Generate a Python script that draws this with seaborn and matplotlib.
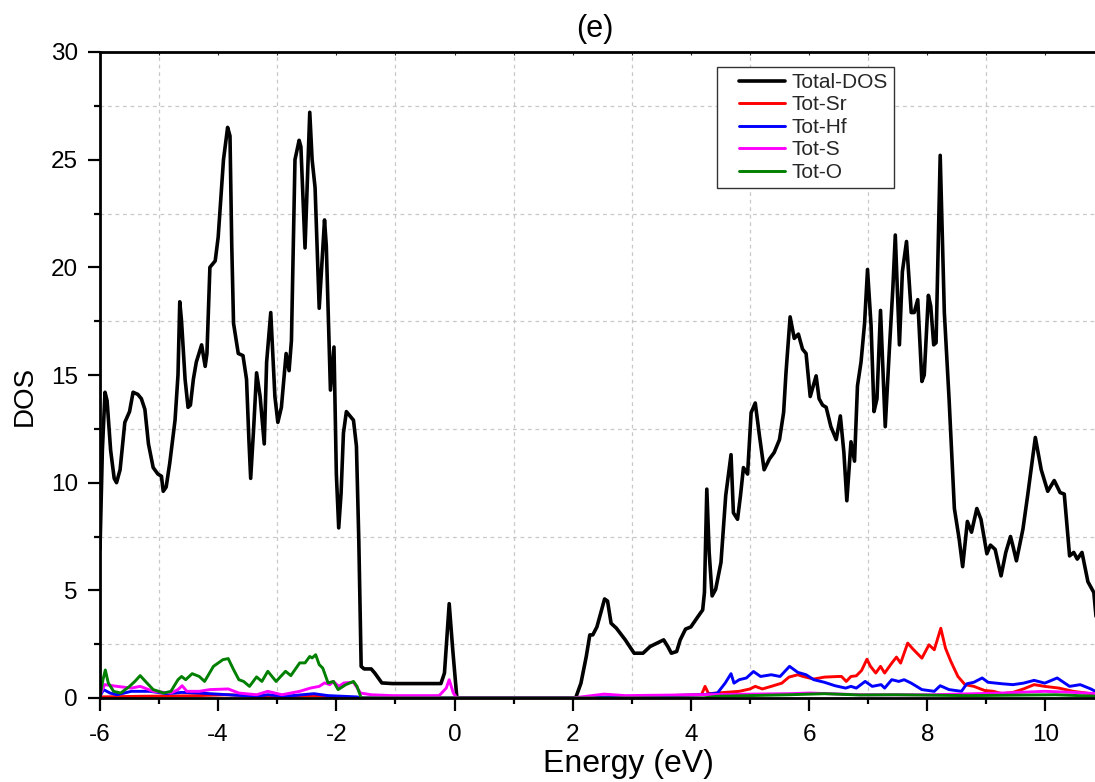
import numpy as np
import pandas as pd
import matplotlib
matplotlib.use("Agg")
import matplotlib.pyplot as plt
from matplotlib.ticker import MultipleLocator
from matplotlib.lines import Line2D
from matplotlib.legend_handler import HandlerLine2D
import seaborn as sns

# ---------------- data ----------------
total_x = [-6.0, -5.96, -5.915, -5.88, -5.82, -5.76, -5.72, -5.66, -5.58, -5.5, -5.44, -5.36, -5.3,
           -5.24, -5.18, -5.1, -5.02, -4.96, -4.93, -4.88, -4.82, -4.73, -4.68, -4.65, -4.62, -4.56,
           -4.51, -4.47, -4.42, -4.37, -4.28, -4.22, -4.19, -4.14, -4.05, -4.0, -3.91, -3.84, -3.8,
           -3.77, -3.74, -3.66, -3.58, -3.52, -3.48, -3.45, -3.4, -3.35, -3.29, -3.22, -3.18, -3.11,
           -3.04, -2.99, -2.93, -2.85, -2.8, -2.76, -2.70, -2.63, -2.6, -2.53, -2.45, -2.41, -2.36,
           -2.29, -2.2, -2.17, -2.1, -2.04, -2.0, -1.96, -1.92, -1.88, -1.83, -1.77, -1.71, -1.66,
           -1.62, -1.58, -1.53, -1.41, -1.35, -1.23, -1.05, -0.23, -0.17, -0.09, -0.03, 0.04,
           2.05, 2.14, 2.23, 2.29, 2.34, 2.41, 2.47, 2.54, 2.59, 2.65, 2.74, 2.89, 3.04, 3.19, 3.31,
           3.43, 3.54, 3.61, 3.67, 3.76, 3.82, 3.91, 4.0, 4.12, 4.2, 4.23, 4.27, 4.31, 4.36, 4.42,
           4.51, 4.59, 4.68, 4.72, 4.79, 4.84, 4.89, 4.96, 5.02, 5.09, 5.16, 5.24, 5.33, 5.41, 5.5,
           5.57, 5.61, 5.68, 5.75, 5.82, 5.89, 5.95, 6.02, 6.12, 6.17, 6.23, 6.29, 6.37, 6.46, 6.53,
           6.59, 6.64, 6.71, 6.77, 6.82, 6.88, 6.94, 6.99, 7.05, 7.1, 7.15, 7.21, 7.29, 7.36, 7.42,
           7.46, 7.53, 7.58, 7.65, 7.73, 7.78, 7.84, 7.91, 7.95, 8.02, 8.06, 8.11, 8.15, 8.22, 8.29,
           8.37, 8.46, 8.54, 8.6, 8.68, 8.75, 8.84, 8.91, 9.01, 9.07, 9.15, 9.25, 9.33, 9.41, 9.45,
           9.51, 9.62, 9.7, 9.83, 9.93, 10.04, 10.15, 10.25, 10.32, 10.41, 10.48, 10.54, 10.62,
           10.72, 10.82, 10.86]
total_y = [6.9, 11.5, 14.2, 13.8, 11.5, 10.2, 10.0, 10.6, 12.8, 13.3, 14.2, 14.1, 13.9,
           13.4, 11.8, 10.7, 10.4, 10.3, 9.6, 9.8, 10.9, 12.9, 15.0, 18.4, 17.5, 14.8,
           13.5, 13.6, 14.8, 15.6, 16.4, 15.4, 16.0, 20.0, 20.3, 21.4, 25.0, 26.5, 26.1,
           21.0, 17.4, 16.0, 15.9, 14.8, 12.0, 10.2, 12.5, 15.1, 14.0, 11.8, 15.6, 17.9,
           14.0, 12.8, 13.5, 16.0, 15.2, 16.6, 25.0, 25.9, 25.6, 20.9, 27.2, 25.0, 23.7,
           18.1, 22.2, 21.0, 14.3, 16.3, 10.4, 7.9, 9.5, 12.3, 13.3, 13.1, 12.9, 11.7,
           7.35, 1.47, 1.35, 1.35, 1.16, 0.7, 0.67, 0.67, 1.16, 4.38, 2.24, 0.0,
           0.0, 0.69, 1.93, 2.93, 2.93, 3.3, 3.9, 4.6, 4.5, 3.47, 3.24, 2.7, 2.08, 2.08, 2.39,
           2.55, 2.7, 2.39, 2.08, 2.16, 2.7, 3.2, 3.3, 3.78, 4.09, 4.9, 9.7, 6.76, 4.74, 5.05,
           6.3, 9.4, 11.3, 8.6, 8.3, 9.4, 10.7, 10.4, 13.25, 13.7, 12.2, 10.6, 11.1, 11.4, 12.0,
           13.26, 15.1, 17.7, 16.7, 16.9, 16.2, 16.0, 14.0, 14.96, 13.9, 13.6, 13.5, 12.6, 12.0, 13.1,
           11.4, 9.16, 11.9, 11.0, 14.5, 15.6, 17.4, 19.9, 17.3, 13.3, 13.9, 18.0, 12.6, 16.2, 19.1,
           21.5, 16.4, 19.8, 21.2, 17.9, 17.9, 18.5, 14.7, 15.0, 18.7, 18.2, 16.4, 16.5, 25.2, 17.9,
           13.9, 8.8, 7.4, 6.1, 8.2, 7.7, 8.8, 8.3, 6.7, 7.1, 6.9, 5.67, 6.76, 7.5, 7.07,
           6.37, 7.84, 9.4, 12.1, 10.6, 9.6, 10.1, 9.54, 9.47, 6.6, 6.76, 6.45, 6.76,
           5.4, 4.9, 3.7]

sr_x = [-6.0, -5.29, -4.5, -3.83, -3.1, -2.38, -1.6, 0.0, 2.0, 4.18, 4.24, 4.3, 4.58, 4.82, 5.0,
        5.09, 5.21, 5.36, 5.54, 5.66, 5.81, 5.9, 6.08, 6.26, 6.5, 6.55, 6.63, 6.71, 6.8, 6.89,
        6.98, 7.04, 7.13, 7.21, 7.28, 7.4, 7.48, 7.55, 7.67, 7.76, 7.91, 8.03, 8.12, 8.23, 8.31,
        8.4, 8.52, 8.64, 8.79, 8.97, 9.12, 9.27, 9.45, 9.63, 9.81, 9.99, 10.23, 10.47, 10.77, 10.88]
sr_y = [0.05, 0.08, 0.1, 0.15, 0.05, 0.11, 0.0, 0.0, 0.0, 0.15, 0.54, 0.2, 0.26, 0.31, 0.42,
        0.54, 0.42, 0.54, 0.69, 0.97, 1.08, 1.0, 0.88, 0.97, 1.0, 1.0, 0.77, 1.0, 1.03, 1.28,
        1.8, 1.47, 1.16, 1.47, 1.16, 1.62, 1.9, 1.62, 2.55, 2.27, 1.85, 2.47, 2.24, 3.24, 2.31,
        1.7, 1.0, 0.62, 0.54, 0.35, 0.31, 0.2, 0.26, 0.42, 0.62, 0.54, 0.46, 0.31, 0.2, 0.15]

hf_x = [-6.0, -5.94, -5.83, -5.71, -5.47, -5.16, -4.86, -4.62, -4.32, -3.77, -3.35, -3.16, -2.86,
        -2.38, -2.14, -1.65, -1.59, 2.0, 4.21, 4.45, 4.58, 4.68, 4.73, 4.82, 4.94, 5.06, 5.18,
        5.36, 5.51, 5.67, 5.81, 5.95, 6.08, 6.26, 6.44, 6.62, 6.71, 6.8, 6.95, 7.07, 7.22, 7.28,
        7.4, 7.52, 7.61, 7.73, 7.91, 8.12, 8.22, 8.37, 8.58, 8.67, 8.79, 8.93, 9.03, 9.27, 9.45,
        9.63, 9.81, 9.99, 10.2, 10.41, 10.59, 10.77, 10.88]
hf_y = [0.08, 0.39, 0.23, 0.15, 0.31, 0.31, 0.2, 0.26, 0.23, 0.14, 0.08, 0.15, 0.08,
        0.2, 0.11, 0.05, 0.0, 0.0, 0.15, 0.23, 0.69, 1.13, 0.69, 0.85, 0.93, 1.23, 1.0,
        1.08, 1.0, 1.47, 1.19, 1.08, 0.85, 0.73, 0.57, 0.46, 0.54, 0.46, 0.77, 0.54, 0.62, 0.46,
        0.85, 0.77, 0.85, 0.69, 0.39, 0.31, 0.57, 0.39, 0.31, 0.66, 0.73, 0.93, 0.73, 0.66, 0.62,
        0.69, 0.82, 0.69, 0.93, 0.54, 0.62, 0.42, 0.26]

s_x = [-6.0, -5.92, -5.71, -5.47, -5.32, -5.1, -4.8, -4.68, -4.61, -4.53, -4.32, -4.14, -3.83,
       -3.65, -3.35, -3.16, -2.92, -2.62, -2.44, -2.29, -2.2, -2.11, -2.05, -1.96, -1.87, -1.71,
       -1.59, -1.41, -1.05, -0.26, -0.14, -0.09, -0.02, 0.04, 2.0, 2.53, 2.89, 4.09, 5.66, 6.02,
       6.86, 8.07, 9.27, 9.99, 10.47, 10.88]
s_y = [0.15, 0.62, 0.54, 0.46, 0.54, 0.31, 0.23, 0.39, 0.57, 0.31, 0.31, 0.39, 0.42,
       0.23, 0.15, 0.31, 0.15, 0.31, 0.46, 0.54, 0.7, 0.62, 0.77, 0.54, 0.7, 0.73,
       0.23, 0.15, 0.11, 0.11, 0.46, 0.85, 0.23, 0.0, 0.0, 0.18, 0.11, 0.15, 0.2, 0.23,
       0.15, 0.15, 0.23, 0.31, 0.26, 0.2]

o_x = [-6.0, -5.95, -5.91, -5.86, -5.77, -5.65, -5.5, -5.41, -5.32, -5.23, -5.1, -4.92, -4.8,
       -4.68, -4.62, -4.55, -4.44, -4.32, -4.23, -4.08, -3.92, -3.83, -3.74, -3.65, -3.57, -3.47,
       -3.35, -3.26, -3.16, -3.02, -2.86, -2.77, -2.62, -2.53, -2.45, -2.41, -2.35, -2.29, -2.23,
       -2.14, -2.05, -1.97, -1.84, -1.71, -1.65, -1.58, 4.2, 4.45, 5.66, 6.26, 6.86, 7.46, 8.67,
       10.17, 10.88]
o_y = [0.08, 0.85, 1.3, 0.7, 0.31, 0.23, 0.54, 0.77, 1.04, 0.77, 0.39, 0.23, 0.31,
       0.85, 1.0, 0.85, 1.13, 1.0, 0.77, 1.47, 1.78, 1.83, 1.32, 0.85, 0.77, 0.54,
       0.98, 0.77, 1.24, 0.77, 1.24, 1.04, 1.63, 1.63, 1.93, 1.86, 2.01, 1.55, 1.39,
       0.7, 0.77, 0.39, 0.62, 0.77, 0.54, 0.0, 0.0, 0.08, 0.15, 0.2, 0.14, 0.15, 0.11,
       0.15, 0.08]

series = [
    ("Total-DOS", total_x, total_y, "#000000", 2.6),
    ("Tot-Sr", sr_x, sr_y, "#ff0000", 2.1),
    ("Tot-Hf", hf_x, hf_y, "#0000ff", 2.1),
    ("Tot-S", s_x, s_y, "#ff00ff", 2.1),
    ("Tot-O", o_x, o_y, "#008000", 2.1),
]

x_ticks = [-6, -4, -2, 0, 2, 4, 6, 8, 10]
y_ticks = [0, 5, 10, 15, 20, 25, 30]

# ---------------- styling ----------------
sns.set_theme(style="white")
plt.rcParams["font.family"] = ["Liberation Sans", "DejaVu Sans"]

fig = plt.figure(figsize=(10.95, 7.82), dpi=100)
W, H = 1095, 782
ax = fig.add_axes([100 / W, 84 / H, 995 / W, 646 / H])

for name, xs, ys, col, lw in series:
    df = pd.DataFrame({"Energy": xs, "DOS": ys})
    sns.lineplot(data=df, x="Energy", y="DOS", color=col, lw=lw, ax=ax,
                 label=name, sort=False, estimator=None)

ax.set_xlim(-6, 10.84)
ax.set_ylim(0, 30)
ax.set_xticks(x_ticks)
ax.set_xticklabels([str(t) for t in x_ticks])
ax.set_yticks(y_ticks)
ax.set_yticklabels([str(t) for t in y_ticks])
ax.xaxis.set_minor_locator(MultipleLocator(1))
ax.yaxis.set_minor_locator(MultipleLocator(2.5))

ax.grid(False)
ax.grid(which="minor", color="#c8c8c8", linestyle=(0, (3, 3)), linewidth=0.9)

for side in ["left", "bottom", "top"]:
    ax.spines[side].set_visible(True)
    ax.spines[side].set_color("black")
    ax.spines[side].set_linewidth(2.0)
ax.spines["right"].set_visible(False)

ax.tick_params(axis="both", which="major", direction="out", length=9, width=1.6,
               color="black", labelsize=17.5, bottom=True, left=True,
               labelcolor="black")
ax.tick_params(axis="x", which="major", pad=10)
ax.tick_params(axis="y", which="major", pad=7)
ax.tick_params(axis="both", which="minor", direction="out", length=4.5, width=1.6,
               color="black", bottom=True, left=True)

sec = ax.secondary_xaxis("top")
sec.set_xticks(x_ticks)
sec.xaxis.set_minor_locator(MultipleLocator(1))
sec.tick_params(which="both", direction="in", length=2.5, width=0.8, labeltop=False)
sec.spines["top"].set_visible(False)

ax.set_xlabel("Energy (eV)", fontsize=23, labelpad=2, color="black", x=0.531)
ax.set_ylabel("DOS", fontsize=20, labelpad=9, color="black", y=0.4675)

fig.text(595 / W, 1 - 29 / H, "(e)", ha="center", va="center", fontsize=22, color="black")

handles, labels = ax.get_legend_handles_labels()
leg = ax.legend(handles, labels, loc="upper left",
                bbox_to_anchor=(717 / W, 1 - 67 / H), bbox_transform=fig.transFigure,
                fontsize=15, frameon=True, fancybox=False, framealpha=1,
                edgecolor="#333333", borderaxespad=0, handlelength=3.0,
                handletextpad=0.3, labelspacing=0.17, borderpad=0.28,
                handler_map={Line2D: HandlerLine2D(xpad=0.78)})
leg.get_frame().set_linewidth(1.0)

fig.savefig("out.png", dpi=100)
